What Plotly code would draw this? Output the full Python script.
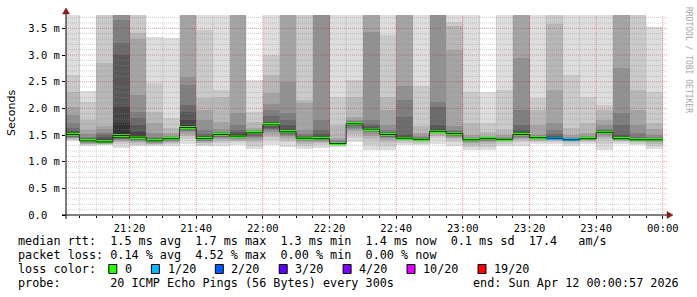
import plotly.graph_objects as go
from datetime import datetime, timedelta

# ---------------- data ----------------
interval_end = [
    "2026-04-11 21:05", "2026-04-11 21:10", "2026-04-11 21:15", "2026-04-11 21:20",
    "2026-04-11 21:25", "2026-04-11 21:30", "2026-04-11 21:35", "2026-04-11 21:40",
    "2026-04-11 21:45", "2026-04-11 21:50", "2026-04-11 21:55", "2026-04-11 22:00",
    "2026-04-11 22:05", "2026-04-11 22:10", "2026-04-11 22:15", "2026-04-11 22:20",
    "2026-04-11 22:25", "2026-04-11 22:30", "2026-04-11 22:35", "2026-04-11 22:40",
    "2026-04-11 22:45", "2026-04-11 22:50", "2026-04-11 22:55", "2026-04-11 23:00",
    "2026-04-11 23:05", "2026-04-11 23:10", "2026-04-11 23:15", "2026-04-11 23:20",
    "2026-04-11 23:25", "2026-04-11 23:30", "2026-04-11 23:35", "2026-04-11 23:40",
    "2026-04-11 23:45", "2026-04-11 23:50", "2026-04-11 23:55", "2026-04-12 00:00",
]

median_ms = [1.51, 1.39, 1.37, 1.49, 1.46, 1.39, 1.43, 1.64, 1.43, 1.51, 1.48, 1.54,
             1.69, 1.56, 1.44, 1.43, 1.34, 1.71, 1.61, 1.51, 1.44, 1.42, 1.57, 1.53,
             1.41, 1.43, 1.42, 1.51, 1.45, 1.44, 1.41, 1.43, 1.55, 1.43, 1.41, 1.41]

loss_count = [0] * 29 + [1, 1] + [0] * 5

# 20 sorted ping round-trip times (ms) for each 5-minute interval
pings = [
    [1.39, 1.41, 1.43, 1.44, 1.45, 1.46, 1.47, 1.48, 1.49, 1.50, 1.52, 1.54, 1.58, 1.64, 1.72, 1.87, 2.03, 2.31, 2.62, 4.10],
    [1.29, 1.31, 1.33, 1.34, 1.35, 1.36, 1.37, 1.375, 1.38, 1.385, 1.40, 1.41, 1.42, 1.44, 1.47, 1.52, 1.60, 1.78, 2.12, 2.33],
    [1.31, 1.32, 1.33, 1.34, 1.345, 1.35, 1.355, 1.36, 1.365, 1.368, 1.40, 1.43, 1.46, 1.50, 1.53, 1.62, 1.66, 2.85, 3.95, 4.40],
    [1.25, 1.33, 1.37, 1.39, 1.41, 1.42, 1.43, 1.44, 1.45, 1.47, 1.72, 2.03, 3.00, 3.22, 3.66, 3.90, 4.20, 4.60, 5.10, 5.80],
    [1.29, 1.32, 1.35, 1.37, 1.39, 1.40, 1.41, 1.42, 1.43, 1.45, 1.48, 1.56, 1.69, 1.81, 1.94, 2.25, 3.30, 3.41, 3.95, 4.30],
    [1.29, 1.31, 1.33, 1.34, 1.35, 1.36, 1.37, 1.375, 1.38, 1.385, 1.40, 1.41, 1.42, 1.44, 1.47, 1.53, 1.72, 1.94, 2.47, 3.34],
    [1.30, 1.33, 1.35, 1.37, 1.38, 1.39, 1.40, 1.41, 1.42, 1.425, 1.432, 1.435, 1.44, 1.45, 1.46, 1.49, 1.53, 1.63, 1.81, 3.31],
    [1.34, 1.42, 1.48, 1.52, 1.55, 1.57, 1.59, 1.61, 1.62, 1.63, 1.69, 1.78, 1.94, 2.06, 2.44, 2.59, 3.90, 4.20, 4.70, 5.30],
    [1.29, 1.32, 1.35, 1.37, 1.38, 1.39, 1.40, 1.41, 1.42, 1.425, 1.44, 1.45, 1.48, 1.52, 1.59, 1.78, 1.97, 2.19, 3.47, 3.95],
    [1.29, 1.35, 1.39, 1.42, 1.44, 1.46, 1.47, 1.48, 1.49, 1.50, 1.515, 1.52, 1.53, 1.54, 1.56, 1.62, 1.75, 2.22, 2.34, 3.90],
    [1.31, 1.36, 1.39, 1.41, 1.43, 1.44, 1.45, 1.46, 1.47, 1.475, 1.50, 1.52, 1.55, 1.60, 1.69, 1.91, 3.90, 4.10, 4.50, 5.00],
    [1.23, 1.30, 1.36, 1.40, 1.44, 1.47, 1.49, 1.51, 1.52, 1.53, 1.545, 1.55, 1.555, 1.56, 1.57, 1.59, 1.63, 1.75, 1.94, 2.53],
    [1.31, 1.40, 1.47, 1.52, 1.56, 1.59, 1.62, 1.64, 1.66, 1.68, 1.70, 1.72, 1.75, 1.85, 1.97, 2.09, 2.28, 2.63, 3.00, 3.90],
    [1.28, 1.36, 1.41, 1.45, 1.48, 1.50, 1.52, 1.53, 1.54, 1.55, 1.58, 1.62, 1.69, 1.78, 1.91, 2.50, 3.85, 4.10, 4.40, 4.90],
    [1.23, 1.29, 1.33, 1.36, 1.38, 1.40, 1.41, 1.42, 1.43, 1.435, 1.45, 1.46, 1.47, 1.49, 1.52, 1.59, 2.10, 2.16, 3.90, 4.30],
    [1.25, 1.31, 1.35, 1.37, 1.39, 1.40, 1.41, 1.42, 1.425, 1.428, 1.45, 1.47, 1.52, 1.59, 1.78, 3.85, 4.00, 4.30, 4.80, 5.40],
    [1.28, 1.30, 1.31, 1.32, 1.325, 1.33, 1.333, 1.335, 1.337, 1.339, 1.345, 1.35, 1.36, 1.37, 1.38, 1.40, 1.44, 1.69, 2.22, 3.90],
    [1.37, 1.45, 1.52, 1.57, 1.61, 1.64, 1.66, 1.68, 1.69, 1.70, 1.715, 1.72, 1.73, 1.74, 1.76, 1.79, 1.84, 2.22, 2.53, 3.95],
    [1.22, 1.32, 1.42, 1.48, 1.52, 1.55, 1.57, 1.58, 1.59, 1.60, 1.62, 1.63, 1.66, 1.70, 1.78, 3.44, 3.90, 4.20, 4.60, 5.20],
    [1.21, 1.30, 1.37, 1.41, 1.44, 1.46, 1.47, 1.48, 1.49, 1.50, 1.515, 1.52, 1.53, 1.55, 1.59, 1.69, 1.97, 2.22, 3.37, 3.95],
    [1.31, 1.35, 1.38, 1.40, 1.41, 1.42, 1.425, 1.43, 1.435, 1.438, 1.45, 1.47, 1.50, 1.84, 2.16, 2.41, 3.90, 4.20, 4.60, 5.00],
    [1.31, 1.34, 1.36, 1.38, 1.39, 1.40, 1.405, 1.41, 1.415, 1.418, 1.425, 1.43, 1.44, 1.45, 1.46, 1.48, 1.53, 1.66, 2.41, 3.95],
    [1.34, 1.44, 1.49, 1.52, 1.54, 1.55, 1.56, 1.563, 1.566, 1.568, 1.58, 1.62, 1.69, 2.03, 2.12, 3.90, 4.10, 4.40, 4.90, 5.50],
    [1.29, 1.37, 1.42, 1.45, 1.47, 1.49, 1.50, 1.51, 1.52, 1.525, 1.535, 1.54, 1.55, 1.57, 1.60, 1.66, 3.09, 3.55, 3.62, 3.95],
    [1.22, 1.28, 1.32, 1.35, 1.37, 1.38, 1.39, 1.40, 1.405, 1.408, 1.415, 1.42, 1.425, 1.43, 1.44, 1.46, 1.50, 1.72, 2.31, 3.90],
    [1.22, 1.28, 1.33, 1.36, 1.38, 1.39, 1.40, 1.41, 1.42, 1.425, 1.432, 1.433, 1.435, 1.44, 1.45, 1.46, 1.49, 1.56, 1.72, 2.31],
    [1.29, 1.33, 1.36, 1.38, 1.39, 1.40, 1.405, 1.41, 1.415, 1.418, 1.421, 1.423, 1.425, 1.43, 1.44, 1.46, 1.50, 1.59, 2.34, 3.90],
    [1.29, 1.36, 1.40, 1.43, 1.45, 1.47, 1.48, 1.49, 1.50, 1.505, 1.52, 1.54, 1.59, 1.69, 1.97, 2.94, 3.90, 4.20, 4.60, 5.10],
    [1.33, 1.36, 1.39, 1.41, 1.42, 1.43, 1.44, 1.445, 1.447, 1.449, 1.452, 1.455, 1.46, 1.47, 1.48, 1.50, 1.69, 1.97, 2.19, 3.95],
    [1.33, 1.36, 1.38, 1.40, 1.41, 1.42, 1.43, 1.435, 1.437, 1.439, 1.45, 1.46, 1.48, 1.52, 1.59, 1.72, 2.34, 3.59, 3.95, 4.40],
    [1.29, 1.33, 1.36, 1.38, 1.39, 1.40, 1.403, 1.405, 1.407, 1.409, 1.412, 1.415, 1.42, 1.43, 1.44, 1.46, 1.50, 1.625, 2.62, 3.95],
    [1.33, 1.36, 1.38, 1.40, 1.41, 1.415, 1.42, 1.425, 1.427, 1.429, 1.432, 1.435, 1.44, 1.45, 1.46, 1.48, 1.53, 1.72, 2.22, 3.90],
    [1.22, 1.33, 1.42, 1.47, 1.50, 1.52, 1.53, 1.54, 1.545, 1.548, 1.555, 1.56, 1.57, 1.59, 1.62, 1.69, 1.78, 1.97, 2.06, 3.95],
    [1.34, 1.37, 1.39, 1.40, 1.41, 1.42, 1.423, 1.425, 1.427, 1.429, 1.44, 1.46, 1.50, 1.69, 1.91, 2.75, 3.90, 4.20, 4.60, 5.20],
    [1.31, 1.34, 1.36, 1.38, 1.39, 1.40, 1.403, 1.405, 1.407, 1.409, 1.415, 1.42, 1.44, 1.47, 1.53, 1.69, 1.97, 2.34, 3.90, 4.30],
    [1.23, 1.30, 1.34, 1.37, 1.38, 1.39, 1.40, 1.403, 1.406, 1.408, 1.415, 1.42, 1.43, 1.44, 1.46, 1.50, 1.62, 1.72, 2.31, 3.53],
]

y_tick_vals = [0.0, 0.5, 1.0, 1.5, 2.0, 2.5, 3.0, 3.5]
y_tick_text = ["0.0\u00a0\u00a0", "0.5 m", "1.0 m", "1.5 m", "2.0 m", "2.5 m", "3.0 m", "3.5 m"]

loss_labels = ["0", "1/20", "2/20", "3/20", "4/20", "10/20", "19/20"]
loss_colors = ["#26ff00", "#00b8ff", "#0059ff", "#5e00ff", "#7e00ff", "#dd00ff", "#ff0000"]

legend_line1 = "median rtt:  1.5 ms avg  1.7 ms max  1.3 ms min  1.4 ms now  0.1 ms sd  17.4   am/s"
legend_line2 = "packet loss: 0.14 % avg  4.52 % max  0.00 % min  0.00 % now"
legend_line4 = "probe:       20 ICMP Echo Pings (56 Bytes) every 300s"
end_text = "end: Sun Apr 12 00:00:57 2026"
watermark = "RRDTOOL / TOBI OETIKER"

x_start = "2026-04-11 21:00:57"
x_end = "2026-04-12 00:00:57"
y_max = 3.75

# ---------------- layout geometry ----------------
W, H = 697, 297
ML, MR, MT, MB = 66, 31, 15, 82
PW, PH = W - ML - MR, H - MT - MB
MONO = "DejaVu Sans Mono"
CHAR_W = 7.1
LEG_FONT = CHAR_W / 0.602


def px(x):
    return (x - ML) / PW


def py(y):
    return (H - MB - y) / PH


step = timedelta(minutes=5)
ends = [datetime.strptime(t, "%Y-%m-%d %H:%M") for t in interval_end]
centers = [e - step / 2 for e in ends]
starts = [e - step for e in ends]
bar_w = step.total_seconds() * 1000

fig = go.Figure()

# smoke: band between ping k and k+1
n = len(pings[0])
half = n // 2
for k in range(1, n):
    lvl = k if k <= half else n - k
    g = int(190 / half * (half - lvl)) + 50
    col = f"rgb({g},{g},{g})"
    fig.add_trace(go.Bar(
        x=centers, base=[r[k - 1] for r in pings], y=[r[k] - r[k - 1] for r in pings],
        width=bar_w, marker=dict(color=col, line=dict(width=0)), hoverinfo="skip"))

# dark median step line
fig.add_trace(go.Scatter(
    x=starts + [ends[-1]], y=median_ms + [median_ms[-1]], mode="lines",
    line=dict(color="#202020", width=1, shape="hv"), hoverinfo="skip"))

# loss-coloured median bars (3 px thick)
thick = 3 * y_max / PH
fig.add_trace(go.Bar(
    x=centers, base=[m - thick / 2 for m in median_ms], y=[thick] * len(median_ms),
    width=bar_w, marker=dict(color=[loss_colors[c] for c in loss_count], line=dict(width=0)),
    hoverinfo="skip"))

shapes = []
# grid on top of the smoke
minor_c = "rgba(140,140,140,0.42)"
major_c = "rgba(190,40,40,0.42)"
for i in range(1, int(y_max * 10) + 1):
    v = i / 10
    major = i % 5 == 0
    shapes.append(dict(type="line", xref="paper", yref="y", x0=0, x1=px(668), y0=v, y1=v,
                       line=dict(color=major_c if major else minor_c, width=1, dash="1px,1px"),
                       layer="above"))
for j, e in enumerate(ends):
    major = e.minute % 20 == 0
    shapes.append(dict(type="line", xref="x", yref="paper", x0=e, x1=e, y0=0, y1=1,
                       line=dict(color=major_c if major else minor_c, width=1, dash="1px,1px"),
                       layer="above"))

# axes with arrows
shapes.append(dict(type="line", xref="paper", yref="paper", x0=px(62), x1=px(668), y0=0, y1=0,
                   line=dict(color="#000000", width=1), layer="above"))
shapes.append(dict(type="line", xref="paper", yref="paper", x0=0, x1=0, y0=py(219), y1=py(12),
                   line=dict(color="#000000", width=1), layer="above"))
arrow_c = "#8b1a1a"
shapes.append(dict(type="path", xref="paper", yref="paper",
                   path=f"M {px(667)} {py(211.5)} L {px(673)} {py(215)} L {px(667)} {py(218.5)} Z",
                   fillcolor=arrow_c, line=dict(color=arrow_c, width=0.5), layer="above"))
shapes.append(dict(type="path", xref="paper", yref="paper",
                   path=f"M {px(62.5)} {py(14)} L {px(66)} {py(8)} L {px(69.5)} {py(14)} Z",
                   fillcolor=arrow_c, line=dict(color=arrow_c, width=0.5), layer="above"))

annotations = []


def text_at(x, y, s, size=LEG_FONT, anchor="left", color="#000000", angle=0, family=MONO):
    annotations.append(dict(xref="paper", yref="paper", x=px(x), y=py(y), text=s.replace(" ", "\u00a0"),
                            showarrow=False, xanchor=anchor, yanchor="middle", textangle=angle,
                            font=dict(family=family, size=size, color=color)))


LX = 16
text_at(LX, 241, legend_line1)
text_at(LX, 255, legend_line2)
text_at(LX, 269, "loss color:")
col = 13
for lab, c in zip(loss_labels, loss_colors):
    x0 = LX + col * CHAR_W + 0.5
    shapes.append(dict(type="rect", xref="paper", yref="paper", x0=px(x0), x1=px(x0 + 8),
                       y0=py(273.5), y1=py(264.5), fillcolor=c, line=dict(color="#000000", width=1),
                       layer="above"))
    text_at(x0 + 2 * CHAR_W, 269, lab)
    col += 2 + len(lab) + 2 + 1
text_at(LX, 283, legend_line4)
text_at(681, 283, end_text, anchor="right")

# y title and watermark
text_at(11, 113, "Seconds", size=11, anchor="center", angle=-90, family="DejaVu Sans")
text_at(688, 60, watermark, size=8, anchor="center", angle=90, color="#a8a8a8")

fig.update_layout(
    width=W, height=H, margin=dict(l=ML, r=MR, t=MT, b=MB, pad=0),
    paper_bgcolor="#ffffff", plot_bgcolor="#ffffff",
    barmode="overlay", bargap=0, showlegend=False, hovermode=False,
    shapes=shapes, annotations=annotations,
    xaxis=dict(type="date", range=[x_start, x_end], showgrid=False, zeroline=False, showline=False,
               tick0="2026-04-11 21:00", dtick=20 * 60 * 1000, tickformat="%H:%M",
               ticks="outside", ticklen=3, tickcolor="#000000",
               minor=dict(dtick=5 * 60 * 1000, ticks="outside", ticklen=2, tickcolor="#000000", showgrid=False),
               tickfont=dict(family=MONO, size=10.5, color="#000000"), fixedrange=True),
    yaxis=dict(range=[0, y_max], showgrid=False, zeroline=False, showline=False,
               tickvals=y_tick_vals, ticktext=y_tick_text, ticks="outside", ticklen=3,
               tickcolor="#000000", tickfont=dict(family=MONO, size=10.5, color="#000000"),
               fixedrange=True),
)

fig.write_html("out.html", config={"displayModeBar": False, "staticPlot": True})
